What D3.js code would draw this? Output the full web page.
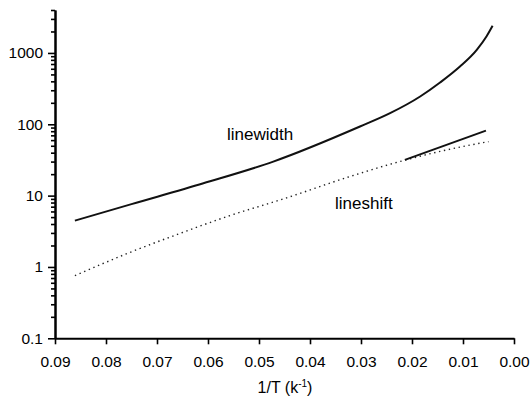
<!DOCTYPE html>
<html>
<head>
<meta charset="utf-8">
<script src="https://cdn.jsdelivr.net/npm/d3@7"></script>
<style>
  body { margin: 0; background: #fff; }
  svg { display: block; font-family: "Liberation Sans", Arial, Helvetica, sans-serif; }
</style>
</head>
<body>
<svg id="chart" width="532" height="398"></svg>
<script>
// Values (x = 1/T, y = log scale)
var widthX = [0.0861, 0.0750, 0.0609, 0.0472, 0.0302, 0.0243, 0.0184, 0.0145, 0.0106, 0.0073, 0.0054, 0.0042];
var widthY = [4.46, 7.6, 14.9, 30, 93, 143, 245, 385, 645, 1105, 1700, 2400];

var shiftX = [0.0861, 0.0755, 0.0655, 0.0557, 0.0450, 0.0322, 0.0243, 0.0145, 0.0050];
var shiftY = [0.755, 1.58, 2.95, 5.25, 9.1, 18.5, 27.5, 41.7, 57.2];

var shiftHighX = [0.0214, 0.0055];
var shiftHighY = [31.7, 81.6];

var xTicks = [0.09, 0.08, 0.07, 0.06, 0.05, 0.04, 0.03, 0.02, 0.01, 0.00];
var yMajor = [0.1, 1, 10, 100, 1000];

var svg = d3.select("#chart");

// Axes scales: x runs from 0.09 down to 0.00
var x = d3.scaleLinear().domain([0.09, 0]).range([55, 514]);
var y = d3.scaleLog().domain([0.1, 4000]).range([338.3, 10]);

// minor ticks 2..9 per decade, plus 2000-4000 at the top
var yMinor = [];
[0.1, 1, 10, 100, 1000].forEach(function (d) {
    for (var k = 2; k <= 9; k++) {
        if (d * k <= 4000) yMinor.push(d * k);
    }
});

function pts(xs, ys) {
    return xs.map(function (v, i) { return [v, ys[i]]; });
}

var line = d3.line()
    .x(function (d) { return x(d[0]); })
    .y(function (d) { return y(d[1]); })
    .curve(d3.curveMonotoneX);

// Lines
svg.append("path")
    .datum(pts(widthX, widthY))
    .attr("d", line)
    .attr("fill", "none")
    .attr("stroke", "#111")
    .attr("stroke-width", 2);

svg.append("path")
    .datum(pts(shiftX, shiftY))
    .attr("d", line)
    .attr("fill", "none")
    .attr("stroke", "#222")
    .attr("stroke-width", 1.4)
    .attr("stroke-dasharray", "1.4,3.6");

svg.append("path")
    .datum(pts(shiftHighX, shiftHighY))
    .attr("d", line)
    .attr("fill", "none")
    .attr("stroke", "#111")
    .attr("stroke-width", 2);

// Draw axes
svg.append("g")
    .attr("transform", "translate(0,338.3)")
    .call(d3.axisBottom(x)
        .tickValues(xTicks)
        .tickFormat(d3.format(".2f"))
        .tickSize(6)
        .tickSizeOuter(0)
        .tickPadding(12));

svg.append("g")
    .attr("transform", "translate(55,0)")
    .call(d3.axisLeft(y)
        .tickValues(yMinor)
        .tickFormat("")
        .tickSize(4)
        .tickSizeOuter(0));

svg.append("g")
    .attr("transform", "translate(55,0)")
    .call(d3.axisLeft(y)
        .tickValues(yMajor)
        .tickFormat(function (d) { return d < 1 ? "0.1" : d3.format("d")(d); })
        .tickSize(7)
        .tickSizeOuter(0)
        .tickPadding(5));

svg.selectAll(".domain").attr("stroke", "#000").attr("stroke-width", 2);
svg.selectAll(".tick line").attr("stroke", "#000").attr("stroke-width", 1.6);
svg.selectAll(".tick text")
    .attr("fill", "#000")
    .attr("font-size", 15.5)
    .attr("font-family", "'Liberation Sans', Arial, Helvetica, sans-serif");

// Curve labels
svg.append("text")
    .attr("x", 227)
    .attr("y", 140)
    .attr("font-size", 17)
    .attr("fill", "#000")
    .text("linewidth");

svg.append("text")
    .attr("x", 335)
    .attr("y", 209)
    .attr("font-size", 17)
    .attr("fill", "#000")
    .text("lineshift");

// Axis title 1/T (k^-1)
var title = svg.append("text")
    .attr("x", 285)
    .attr("y", 393)
    .attr("text-anchor", "middle")
    .attr("font-size", 16)
    .attr("fill", "#000");
title.append("tspan").text("1/T (k");
title.append("tspan").attr("dy", -6).attr("font-size", 10).text("-1");
title.append("tspan").attr("dy", 6).text(")");
</script>
</body>
</html>
